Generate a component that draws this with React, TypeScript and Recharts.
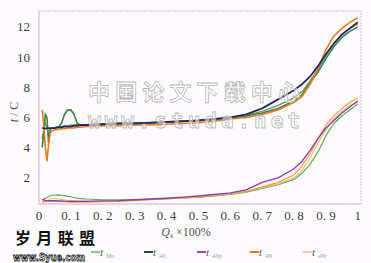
import React from "react";
import { LineChart, Line, XAxis, YAxis, ReferenceArea } from "recharts";

const xs = [0.01, 0.015, 0.02, 0.025, 0.03, 0.035, 0.04, 0.05, 0.06, 0.07, 0.08, 0.09, 0.1, 0.11, 0.12, 0.13, 0.15, 0.2, 0.25, 0.3, 0.35, 0.4, 0.45, 0.5, 0.55, 0.6, 0.65, 0.7, 0.75, 0.8, 0.825, 0.85, 0.875, 0.9, 0.925, 0.95, 0.975, 1.0];

// upper group
const upDark = [5.3, 5.3, 5.25, 5.3, 5.3, 5.3, 5.3, 5.3, 5.35, 5.35, 5.4, 5.4, 5.4, 5.45, 5.45, 5.5, 5.5, 5.55, 5.6, 5.6, 5.65, 5.7, 5.75, 5.8, 5.9, 6.0, 6.2, 6.6, 7.2, 7.8, 8.2, 8.7, 9.4, 10.2, 10.9, 11.5, 11.9, 12.3];
const upOrange = [6.5, 5.5, 4.0, 3.1, 4.2, 5.0, 5.1, 5.2, 5.2, 5.25, 5.25, 5.3, 5.3, 5.3, 5.35, 5.35, 5.4, 5.45, 5.45, 5.5, 5.5, 5.55, 5.6, 5.65, 5.75, 5.9, 6.0, 6.2, 6.5, 7.0, 7.4, 8.2, 9.2, 10.5, 11.4, 11.9, 12.3, 12.6];
const upGreen = [4.0, 5.0, 6.2, 6.0, 4.3, 5.2, 5.3, 5.3, 5.35, 5.6, 6.2, 6.5, 6.5, 6.2, 5.6, 5.5, 5.5, 5.55, 5.6, 5.6, 5.65, 5.7, 5.75, 5.8, 5.85, 5.95, 6.1, 6.3, 6.6, 7.1, 7.5, 8.3, 9.0, 9.9, 10.7, 11.3, 11.7, 12.0];
const upGreen2 = [4.6, 5.2, 5.6, 5.4, 4.8, 5.2, 5.3, 5.35, 5.4, 5.4, 5.45, 5.45, 5.5, 5.5, 5.5, 5.5, 5.5, 5.55, 5.6, 5.65, 5.65, 5.7, 5.75, 5.8, 5.9, 6.0, 6.15, 6.4, 6.8, 7.3, 7.7, 8.4, 9.2, 10.1, 10.9, 11.5, 11.9, 12.2];

// lower group
const lowPurple = [0.55, 0.55, 0.5, 0.5, 0.5, 0.5, 0.5, 0.5, 0.48, 0.47, 0.46, 0.45, 0.45, 0.45, 0.45, 0.45, 0.45, 0.48, 0.5, 0.55, 0.6, 0.65, 0.72, 0.8, 0.9, 1.0, 1.2, 1.7, 2.0, 2.6, 3.1, 3.8, 4.6, 5.3, 5.8, 6.3, 6.7, 7.1];
const lowOrange = [0.4, 0.4, 0.42, 0.42, 0.44, 0.45, 0.45, 0.45, 0.44, 0.43, 0.42, 0.41, 0.4, 0.4, 0.4, 0.4, 0.4, 0.42, 0.45, 0.5, 0.55, 0.6, 0.65, 0.72, 0.8, 0.95, 1.1, 1.4, 1.7, 2.2, 2.8, 3.6, 4.6, 5.5, 6.1, 6.6, 7.0, 7.3];
const lowGreen = [0.55, 0.6, 0.65, 0.7, 0.75, 0.8, 0.85, 0.85, 0.87, 0.85, 0.82, 0.78, 0.75, 0.7, 0.66, 0.63, 0.6, 0.55, 0.55, 0.55, 0.58, 0.62, 0.67, 0.72, 0.8, 0.9, 1.05, 1.3, 1.55, 1.9, 2.3, 2.9, 3.7, 4.8, 5.6, 6.1, 6.5, 6.9];
const lowPeach = [0.45, 0.45, 0.47, 0.5, 0.55, 0.6, 0.62, 0.62, 0.6, 0.58, 0.55, 0.52, 0.5, 0.5, 0.48, 0.47, 0.46, 0.47, 0.5, 0.53, 0.57, 0.62, 0.67, 0.74, 0.82, 0.95, 1.1, 1.35, 1.6, 2.0, 2.5, 3.3, 4.3, 5.2, 5.9, 6.4, 6.8, 7.0];

const xTicks = [0, 0.1, 0.2, 0.3, 0.4, 0.5, 0.6, 0.7, 0.8, 0.9, 1];
const yTicks = [2, 4, 6, 8, 10, 12];

const legendNames = ["Mu", "4Ii", "4Ilp", "4N", "4Nr"];
const legendColors = ["#8cc88c", "#2f4a3a", "#9a48c0", "#e8701a", "#f3c8a8"];

const data = xs.map((x, i) => ({
  x,
  upDark: upDark[i],
  upOrange: upOrange[i],
  upGreen: upGreen[i],
  upGreen2: upGreen2[i],
  lowPurple: lowPurple[i],
  lowOrange: lowOrange[i],
  lowGreen: lowGreen[i],
  lowPeach: lowPeach[i],
}));

const fmtX = (v: number) => (v === 0 || v === 1 ? String(v) : v.toFixed(1).replace(".", ". "));

const serif = "Liberation Serif, DejaVu Serif, serif";
const tickStyle = { fontFamily: serif, fontSize: 13, fill: "#3a3f3a" };

export default function App() {
  return (
    <div style={{ position: "absolute", left: 0, top: 0, width: 371, height: 263, background: "#fefbfe" }}>
      <LineChart width={371} height={263} data={data} margin={{ top: 11, right: 10, left: 0, bottom: 0 }}>
        <XAxis
          dataKey="x"
          type="number"
          domain={[0, 1.01]}
          allowDataOverflow
          ticks={xTicks}
          tickFormatter={fmtX}
          height={59}
          tickLine={false}
          tickSize={0}
          tickMargin={7}
          axisLine={{ stroke: "#d8b4d8", strokeDasharray: "2 1" }}
          tick={tickStyle}
        />
        <YAxis
          type="number"
          domain={[0.27, 13.05]}
          allowDataOverflow
          ticks={yTicks}
          width={39}
          tickLine={false}
          tickSize={0}
          tickMargin={9}
          axisLine={{ stroke: "#d8b4d8", strokeDasharray: "2 1" }}
          tick={tickStyle}
        />
        <ReferenceArea x1={0} x2={1.01} y1={0.27} y2={13.05} fill="none" stroke="#d8b4d8" strokeDasharray="2 1" ifOverflow="visible" />
        <Line dataKey="lowGreen" stroke="#5aa85a" strokeWidth={1.2} dot={false} isAnimationActive={false} />
        <Line dataKey="lowPeach" stroke="#f3c070" strokeWidth={1.2} dot={false} isAnimationActive={false} />
        <Line dataKey="lowOrange" stroke="#f0a040" strokeWidth={1.2} dot={false} isAnimationActive={false} />
        <Line dataKey="lowPurple" stroke="#8a3ab8" strokeWidth={1.3} dot={false} isAnimationActive={false} />
        <Line dataKey="upGreen2" stroke="#5a9a5a" strokeWidth={1.3} dot={false} isAnimationActive={false} />
        <Line dataKey="upGreen" stroke="#3a8050" strokeWidth={1.6} dot={false} isAnimationActive={false} />
        <Line dataKey="upOrange" stroke="#ec7a1c" strokeWidth={1.6} dot={false} isAnimationActive={false} />
        <Line dataKey="upDark" stroke="#2c2a5a" strokeWidth={1.8} dot={false} isAnimationActive={false} />
      </LineChart>
      <svg width={371} height={263} style={{ position: "absolute", left: 0, top: 0, pointerEvents: "none" }}>
        <text
          x={0}
          y={0}
          transform="translate(14,112) rotate(-90)"
          textAnchor="middle"
          dominantBaseline="central"
          style={{ fontFamily: serif, fontSize: 12, fill: "#4a524a" }}
        >
          <tspan fontStyle="italic">t</tspan> / C
        </text>
        <text x={186} y={236} textAnchor="middle" style={{ fontFamily: serif, fontSize: 12, fill: "#4a524a" }}>
          <tspan fontStyle="italic">Q</tspan>
          <tspan fontSize={8} dy={2} fontStyle="italic">s</tspan>
          <tspan dy={-2}> ×100%</tspan>
        </text>
        <text x={88} y={100} textAnchor="start" textLength={212} style={{ fontFamily: "'Noto Sans CJK SC', sans-serif", fontSize: 22, fontWeight: 700, fill: "rgba(255,255,255,0.55)", stroke: "#b8b8b8", strokeWidth: 0.8 }}>
          中国论文下载中心
        </text>
        <text x={88} y={128} textAnchor="start" textLength={212} style={{ fontFamily: "'DejaVu Sans Mono', monospace", fontSize: 21, fontWeight: 700, fill: "rgba(255,255,255,0.55)", stroke: "#b8b8b8", strokeWidth: 0.8 }}>
          www.studa.net
        </text>
        <text x={15} y={244} textLength={80} style={{ fontFamily: "'Noto Sans CJK SC', sans-serif", fontSize: 16, fontWeight: 700, fill: "#111" }}>
          岁月联盟
        </text>
        <text x={13} y={261} textLength={72} lengthAdjust="spacingAndGlyphs" style={{ fontFamily: "'DejaVu Sans', sans-serif", fontSize: 10, fontWeight: 700, fill: "#fff", stroke: "#111", strokeWidth: 0.8 }}>
          www.Syue.com
        </text>
        {legendNames.map((n, i) => {
          const lx = 91 + i * 53;
          return (
            <g key={n}>
              <line x1={lx} y1={252} x2={lx + 9} y2={252} stroke={legendColors[i]} strokeWidth={2} />
              <text x={lx + 9} y={256} style={{ fontFamily: serif, fontSize: 11, fontStyle: "italic", fill: "#555" }}>
                t
              </text>
              <text x={lx + 15} y={258} style={{ fontFamily: serif, fontSize: 6, fontStyle: "italic", fill: "#999" }}>
                {n}
              </text>
            </g>
          );
        })}
      </svg>
    </div>
  );
}
